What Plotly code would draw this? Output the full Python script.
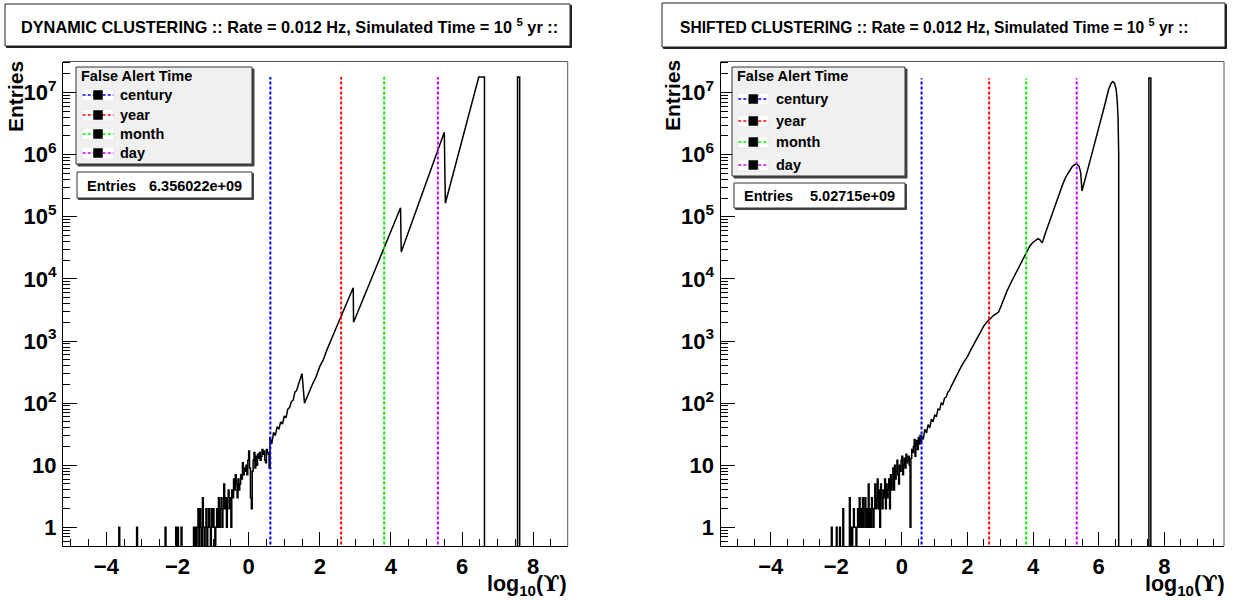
import plotly.graph_objects as go
import numpy as np

W_PX, H_PX = 1235, 600

# ---------------- data ----------------
BIN_W = 0.025          # histogram bin width used for the noisy low part
GRID_START = -4.0
FLOOR = 0.1            # empty bins on the log axis (falls below visible range)

L_TITLE = "DYNAMIC CLUSTERING :: Rate = 0.012 Hz, Simulated Time = 10 <sup>5</sup> yr ::"
R_TITLE = "SHIFTED CLUSTERING :: Rate = 0.012 Hz, Simulated Time = 10 <sup>5</sup> yr ::"
L_ENTRIES = "6.356022e+09"
R_ENTRIES = "5.02715e+09"

ALERT_NAMES = ["century", "year", "month", "day"]
ALERT_COLORS = ["#0000ff", "#ff0000", "#00ee00", "#cc00ff"]
L_ALERT_X = [0.61, 2.60, 3.81, 5.32]
R_ALERT_X = [0.60, 2.66, 3.79, 5.33]
L_ALERT_TOP = 1.78e7
R_ALERT_TOP = 1.70e7

# left (DYNAMIC) histogram
L_ISOLATED_X = [-3.65, -3.14, -2.34, -2.06, -2.01, -1.90, -1.56, -1.50]
L_DENSE_START = -1.45
L_DENSE = [1, 2, 0, 2, 1, 0, 3, 1, 0, 1,
           2, 0, 1, 2, 1, 0, 2, 1, 2, 1,
           0, 1, 2, 1, 3, 1, 2, 3, 1, 2,
           5, 2, 3, 1, 3, 4, 2, 3, 1, 4,
           3, 6, 4, 7, 5, 3, 6, 4, 5, 7,
           6, 11, 7, 9, 8, 10, 7, 12, 17, 9,
           3, 2, 8, 12, 16, 9, 14, 10, 15, 13,
           16, 12, 14, 18, 15, 17, 12, 11, 18, 16, 15, 9]
L_CURVE_X = [0.6, 0.65, 0.7, 0.75, 0.8, 0.85, 0.9, 0.95, 1.0, 1.05, 1.1, 1.15,
             1.2, 1.25, 1.3, 1.35, 1.4, 1.45, 1.5, 1.57, 1.62, 1.7, 1.75, 1.8,
             1.9, 2.0, 2.1, 2.2, 2.4, 2.6, 2.8, 2.94, 2.95, 3.2, 3.5, 3.8, 4.0,
             4.27, 4.29, 4.5, 4.8, 5.0, 5.3, 5.5, 5.53, 5.8, 6.0, 6.2, 6.47,
             6.63, 6.63]
L_CURVE_Y = [28, 22, 34, 30, 42, 38, 50, 46, 62, 58, 80, 85,
             105, 112, 150, 160, 200, 240, 300, 100, 118, 150, 175, 205,
             270, 390, 500, 720, 1350, 2500, 4700, 7200, 2000, 4500, 11800, 31000, 59000,
             140000, 27000, 59000, 180000, 370000, 1100000, 2300000, 165000, 630000,
             1700000, 4700000, 17800000,
             17800000, 0]
L_SPIKE = [7.56, 7.62, 1.78e7]

# right (SHIFTED) histogram
R_ISOLATED_X = [-2.14, -2.00, -1.90]
R_DENSE_START = -1.8
R_DENSE = [2, 0, 0, 0, 0, 0, 0, 0, 3, 0,
           1, 0, 1, 2, 1, 1, 0, 1, 2, 1,
           3, 1, 2, 1, 3, 1, 2, 3, 1, 2,
           1, 5, 1, 2, 1, 3, 2, 1, 2, 5,
           2, 3, 6, 2, 4, 1, 5, 3, 2, 4,
           3, 6, 2, 5, 3, 4, 6, 2, 7, 4,
           5, 9, 4, 10, 6, 8, 12, 7, 5, 10,
           8, 12, 14, 7, 10, 13, 9, 15, 11, 12,
           14, 10, 1, 13, 18, 16, 20, 26, 14, 22,
           25, 18, 28, 22, 30, 24]
R_CURVE_X = [0.6, 0.65, 0.7, 0.75, 0.8, 0.85, 0.9, 0.95, 1.0, 1.05, 1.1, 1.15,
             1.2, 1.25, 1.3, 1.35, 1.4, 1.45, 1.5, 1.6, 1.7, 1.8, 1.9, 2.0,
             2.1, 2.2, 2.3, 2.4, 2.5, 2.6, 2.7, 2.8, 2.9, 2.95, 3.0, 3.1, 3.2,
             3.3, 3.4, 3.5, 3.6, 3.7, 3.8, 3.9, 4.0, 4.1, 4.15, 4.2, 4.25, 4.28,
             4.35, 4.5, 4.6, 4.7, 4.8, 4.9, 5.0, 5.1, 5.2, 5.28, 5.34, 5.4, 5.45,
             5.49, 5.55, 5.7, 5.85, 6.0, 6.1, 6.2, 6.3, 6.38, 6.43, 6.48, 6.53,
             6.56, 6.59, 6.61, 6.61]
R_CURVE_Y = [30, 26, 38, 33, 45, 40, 55, 50, 65, 60, 80, 78,
             100, 95, 120, 125, 150, 160, 185, 240, 310, 380, 470, 560,
             720, 900, 1150, 1450, 1750, 2050, 2350, 2600, 2800, 2950, 3400, 4700, 6300,
             8200, 10500, 13000, 16500, 21500, 27500, 34000, 39000, 43000, 44500, 43000,
             39000, 38000,
             50000, 85000, 120000, 170000, 240000, 330000, 440000, 550000, 650000,
             700000, 700000, 650000, 520000,
             260000, 350000, 680000, 1350000, 2600000, 4200000, 6800000, 11200000,
             14200000, 15000000, 14200000, 11500000,
             8000000, 4000000, 1000000, 0]
R_SPIKE = [7.53, 7.59, 1.72e7]

X_TICKS = [-4, -2, 0, 2, 4, 6, 8]
X_TICK_TEXT = ["\u22124", "\u22122", "0", "2", "4", "6", "8"]
Y_TICKS = [1, 10, 1e2, 1e3, 1e4, 1e5, 1e6, 1e7]
Y_TICK_TEXT = ["1", "10", "10<sup>2</sup>", "10<sup>3</sup>", "10<sup>4</sup>",
               "10<sup>5</sup>", "10<sup>6</sup>", "10<sup>7</sup>"]

# ---------------- layout geometry (pixels) ----------------
L_FRAME = (63, 567.7)
R_FRAME = (720.5, 1224)
FRAME_Y = (61.5, 546)
L_XRANGE = [-5.22, 8.97]
R_XRANGE = [-5.53, 9.82]
Y_RANGE = [-0.3, 7.5]

FONT = "Liberation Sans, Arial, Helvetica, sans-serif"


def fx(px):
    return px / W_PX


def fy(py):
    return 1 - py / H_PX


def build_hist(isolated, dense_start, dense, cx, cy, spike):
    n_grid = int(round((dense_start - GRID_START) / BIN_W))
    counts = [0] * n_grid
    for x in isolated:
        i = int(round((x - GRID_START) / BIN_W))
        if 0 <= i < n_grid:
            counts[i] = 1
    counts += list(dense)
    xs, ys = [], []
    for i, c in enumerate(counts):
        e0 = GRID_START + i * BIN_W
        v = c if c > 0 else FLOOR
        xs += [e0, e0 + BIN_W]
        ys += [v, v]
    for x, y in zip(cx, cy):
        xs.append(x)
        ys.append(y if y > 0 else FLOOR)
    s0, s1, top = spike
    xs += [s0, s0, s1, s1]
    ys += [FLOOR, top, top, FLOOR]
    return xs, ys


fig = go.Figure()

panels = [
    dict(xa="x", ya="y", hist=build_hist(L_ISOLATED_X, L_DENSE_START, L_DENSE, L_CURVE_X, L_CURVE_Y, L_SPIKE),
         alert_x=L_ALERT_X, alert_top=L_ALERT_TOP),
    dict(xa="x2", ya="y2", hist=build_hist(R_ISOLATED_X, R_DENSE_START, R_DENSE, R_CURVE_X, R_CURVE_Y, R_SPIKE),
         alert_x=R_ALERT_X, alert_top=R_ALERT_TOP),
]

for p in panels:
    hx, hy = p["hist"]
    fig.add_trace(go.Scatter(x=hx, y=hy, mode="lines", line=dict(color="black", width=1.5),
                             xaxis=p["xa"], yaxis=p["ya"], showlegend=False, hoverinfo="skip"))
    for ax_x, col in zip(p["alert_x"], ALERT_COLORS):
        fig.add_trace(go.Scatter(x=[ax_x, ax_x], y=[FLOOR, p["alert_top"]], mode="lines",
                                 line=dict(color=col, width=2, dash="3px,2px"),
                                 xaxis=p["xa"], yaxis=p["ya"], showlegend=False, hoverinfo="skip"))

minor_y = []
for d in range(-1, 8):
    for k in range(2, 10):
        v = k * 10.0 ** d
        if 10 ** Y_RANGE[0] <= v <= 10 ** Y_RANGE[1]:
            minor_y.append(v)

tickfont = dict(family=FONT, size=22, color="black")


def xaxis_cfg(dom, rng):
    return dict(domain=[fx(dom[0]), fx(dom[1])], range=rng, showgrid=False, zeroline=False,
                showline=True, linecolor="black", linewidth=1, mirror=False,
                ticks="inside", ticklen=14, tickwidth=1, tickcolor="black",
                tickmode="array", tickvals=X_TICKS,
                ticktext=["<b>%s</b>" % t for t in X_TICK_TEXT], tickfont=tickfont,
                ticklabelstandoff=1,
                minor=dict(tickmode="array", tickvals=list(np.arange(-6.0, 10.01, 0.5)),
                           ticks="inside", ticklen=7, tickwidth=1, tickcolor="black"),
                automargin=False, fixedrange=True)


def yaxis_cfg(anchor):
    return dict(domain=[fy(FRAME_Y[1]), fy(FRAME_Y[0])], type="log", range=Y_RANGE,
                anchor=anchor, showgrid=False, zeroline=False, showline=True, linecolor="black",
                linewidth=1, ticks="inside", ticklen=14, tickwidth=1, tickcolor="black",
                tickmode="array", tickvals=Y_TICKS,
                ticktext=["<b>%s</b>" % t for t in Y_TICK_TEXT], tickfont=tickfont,
                ticklabelstandoff=1,
                minor=dict(tickmode="array", tickvals=minor_y, ticks="inside", ticklen=7,
                           tickwidth=1, tickcolor="black"),
                automargin=False, fixedrange=True)


shapes = []
annotations = []


def rect(x0, y0, x1, y1, fill="white", line="black", lw=1, layer="above"):
    shapes.append(dict(type="rect", xref="paper", yref="paper", x0=fx(x0), x1=fx(x1),
                       y0=fy(y1), y1=fy(y0), fillcolor=fill,
                       line=dict(color=line, width=lw), layer=layer))


def hline(x0, x1, y, color, dash=None, lw=1.5):
    shapes.append(dict(type="line", xref="paper", yref="paper", x0=fx(x0), x1=fx(x1),
                       y0=fy(y), y1=fy(y), line=dict(color=color, width=lw, dash=dash)))


def vline(x, y0, y1, color, lw=1):
    shapes.append(dict(type="line", xref="paper", yref="paper", x0=fx(x), x1=fx(x),
                       y0=fy(y0), y1=fy(y1), line=dict(color=color, width=lw)))


def text(x, y, s, size, xanchor="left", angle=0):
    annotations.append(dict(xref="paper", yref="paper", x=fx(x), y=fy(y), text="<b>%s</b>" % s,
                            showarrow=False, xanchor=xanchor, yanchor="middle", textangle=angle,
                            font=dict(family=FONT, size=size, color="black"),
                            borderpad=0))


UPS = "<span style='font-family:DejaVu Serif'>\u03d2</span>"

panel_text = [
    dict(frame=L_FRAME, title=L_TITLE, tsize=16.3, tbox=(5, 4, 570, 46), tx=20,
         leg=(76, 67, 252, 164), leg_rows=[95, 115, 134, 153], samp=(82.7, 113.3), tcol=119,
         ebox=(77, 172, 252, 198), ey=186, ex=86, ev=243, entries=L_ENTRIES,
         ytitle=(16, 97), xtitle=568),
    dict(frame=R_FRAME, title=R_TITLE, tsize=15.6, tbox=(662, 3, 1225, 47), tx=679,
         leg=(732, 67, 905, 176), leg_rows=[99, 121, 142, 165], samp=(738.3, 768.3), tcol=775,
         ebox=(734, 183, 905, 208), ey=196, ex=743, ev=896, entries=R_ENTRIES,
         ytitle=(672, 96), xtitle=1226),
]

for pt in panel_text:
    fx0, fx1 = pt["frame"]
    # gray top/right frame lines
    hline(fx0, fx1, FRAME_Y[0], "#555555", lw=1)
    vline(fx1, FRAME_Y[0], FRAME_Y[1], "#555555", lw=1)
    # title box with shadow
    x0, y0, x1, y1 = pt["tbox"]
    rect(x0 + 1.5, y0 + 1.5, x1 + 1.5, y1 + 1.5, fill="#222222", line="#222222")
    rect(x0, y0, x1, y1, fill="white", line="#222222")
    text(pt["tx"], (y0 + y1) / 2 + 1, pt["title"], pt["tsize"])
    # legend box
    x0, y0, x1, y1 = pt["leg"]
    rect(x0 + 2, y0 + 2, x1 + 2, y1 + 2, fill="#444444", line="#444444")
    rect(x0, y0, x1, y1, fill="#f0f0f0", line="#333333")
    text(x0 + 4, 76, "False Alert Time", 14.5)
    s0, s1 = pt["samp"]
    for yy, col, name in zip(pt["leg_rows"], ALERT_COLORS, ALERT_NAMES):
        rect(s0 - 0.5, yy - 6, s1 + 0.5, yy + 6, fill="white", line="#e8e8e8", lw=1)
        hline(s0, s1, yy, col, dash="3px,2px", lw=1.5)
        mid = (s0 + s1) / 2
        rect(mid - 4.5, yy - 4.5, mid + 4.5, yy + 4.5, fill="black", line="black", lw=0.5)
        text(pt["tcol"], yy, name, 14.5)
    # entries box
    x0, y0, x1, y1 = pt["ebox"]
    rect(x0 + 1.5, y0 + 1.5, x1 + 1.5, y1 + 1.5, fill="#444444", line="#444444")
    rect(x0, y0, x1, y1, fill="white", line="#333333")
    text(pt["ex"], pt["ey"], "Entries", 14.5)
    text(pt["ev"], pt["ey"], pt["entries"], 14.5, xanchor="right")
    # axis titles
    tx_, ty_ = pt["ytitle"]
    text(tx_, ty_, "Entries", 21, xanchor="center", angle=-90)
    text(pt["xtitle"], 585, "log<sub>10</sub>(" + UPS + ")", 21.5, xanchor="right")

fig.update_layout(
    width=W_PX, height=H_PX,
    margin=dict(l=0, r=0, t=0, b=0),
    paper_bgcolor="white", plot_bgcolor="white",
    showlegend=False,
    xaxis=xaxis_cfg(L_FRAME, L_XRANGE) | dict(anchor="y"),
    yaxis=yaxis_cfg("x"),
    xaxis2=xaxis_cfg(R_FRAME, R_XRANGE) | dict(anchor="y2"),
    yaxis2=yaxis_cfg("x2"),
    shapes=shapes,
    annotations=annotations,
    font=dict(family=FONT, color="black"),
)

fig.write_html("out.html",
               config={"displayModeBar": False},
               post_script="document.body.style.margin='0';document.body.style.padding='0';"
                           "document.body.style.overflow='hidden';")
